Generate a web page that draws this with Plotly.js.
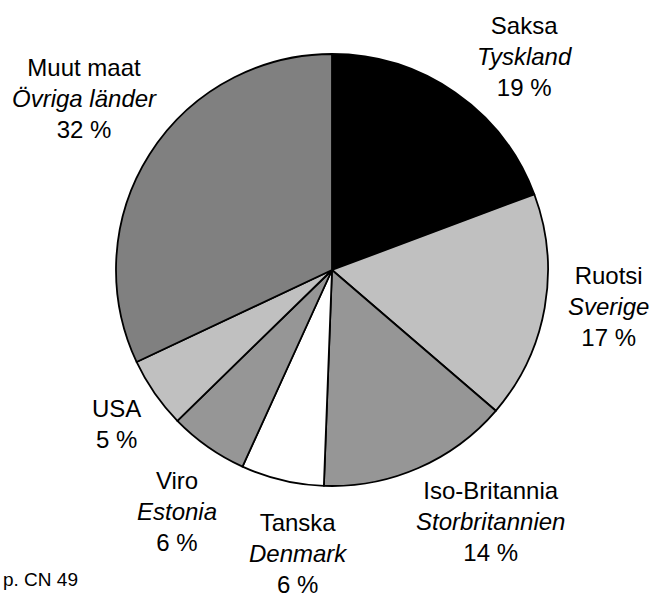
<!DOCTYPE html>
<html>
<head>
<meta charset="utf-8">
<script src="https://cdn.plot.ly/plotly-3.0.1.min.js"></script>
<style>html,body{margin:0;padding:0;background:#fff;}#chart{width:651px;height:597px;}</style>
</head>
<body>
<div id="chart"></div>
<script>
// Data
const labelsFi = ["Saksa", "Ruotsi", "Iso-Britannia", "Tanska", "Viro", "USA", "Muut maat"];
const labelsSv = ["Tyskland", "Sverige", "Storbritannien", "Denmark", "Estonia", "", "Övriga länder"];
const shares = [19.3, 17.0, 14.3, 6.2, 5.9, 5.3, 32.0];
const sliceColors = ["#000000", "#c0c0c0", "#969696", "#ffffff", "#969696", "#c0c0c0", "#808080"];
const sourceNote = "p. CN 49";

// Layout helpers (pixel positions of label centres)
const W = 651, H = 597;
const labelPos = [[524, 56], [608, 306], [490, 521], [298, 553], [177, 511], [116, 424], [84, 98]];
const total = shares.reduce((a, b) => a + b, 0);

const annotations = labelsFi.map((fi, i) => {
  const pct = Math.round(shares[i] / total * 100) + " %";
  const lines = [fi];
  if (labelsSv[i]) lines.push("<i>" + labelsSv[i] + "</i>");
  lines.push(pct);
  return {
    x: labelPos[i][0] / W, y: 1 - labelPos[i][1] / H,
    xref: "paper", yref: "paper", xanchor: "center", yanchor: "middle",
    text: lines.join("<br>"), showarrow: false, align: "center",
    font: {family: "Liberation Sans, Arial, sans-serif", size: 24, color: "#000"}
  };
});
annotations.push({
  x: 80 / W, y: 1 - 587 / H, xref: "paper", yref: "paper",
  xanchor: "right", yanchor: "bottom", yshift: -5, text: sourceNote, showarrow: false,
  font: {family: "Liberation Sans, Arial, sans-serif", size: 19, color: "#000"}
});

const cx = 332, cy = 270, r = 216;
const trace = {
  type: "pie",
  labels: labelsFi,
  values: shares,
  sort: false,
  direction: "clockwise",
  rotation: 0,
  textinfo: "none",
  hoverinfo: "label+percent",
  marker: {colors: sliceColors, line: {color: "#000", width: 1.8}},
  domain: {x: [(cx - r) / W, (cx + r) / W], y: [1 - (cy + r) / H, 1 - (cy - r) / H]},
  showlegend: false
};

Plotly.newPlot("chart", [trace], {
  width: W, height: H,
  margin: {l: 0, r: 0, t: 0, b: 0},
  paper_bgcolor: "#fff",
  showlegend: false,
  annotations: annotations
}, {displayModeBar: false, staticPlot: true});
</script>
</body>
</html>
